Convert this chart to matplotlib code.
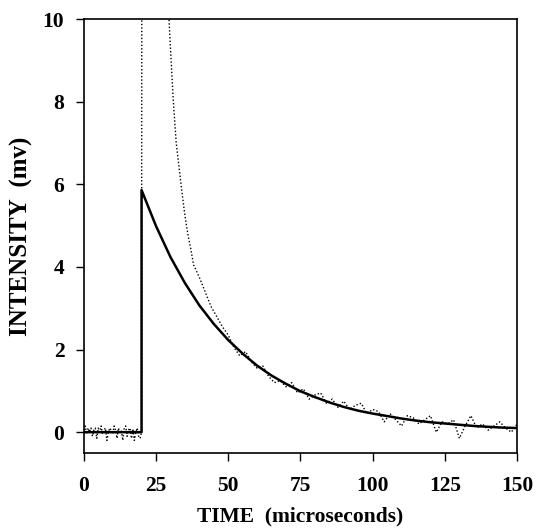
import matplotlib.pyplot as plt

# measured signal (mV) vs time (microseconds)
base_t = [0.0, 0.5, 1.0, 1.5, 2.0, 2.5, 3.0, 3.5, 4.0, 4.5, 5.0, 5.5, 6.0, 6.5, 7.0, 7.5,
          8.0, 8.5, 9.0, 9.5, 10.0, 10.5, 11.0, 11.5, 12.0, 12.5, 13.0, 13.5, 14.0, 14.5,
          15.0, 15.5, 16.0, 16.5, 17.0, 17.5, 18.0, 18.5, 19.0, 19.5, 20.0]
base_v = [0.05, 0.15, -0.05, 0.10, 0.0, 0.10, -0.10, 0.05, 0.10, -0.15, 0.10, 0.0, 0.15,
          -0.05, 0.05, 0.10, -0.20, 0.0, 0.10, 0.05, -0.05, 0.15, 0.05, -0.15, 0.10, 0.0,
          0.05, -0.20, 0.10, 0.15, -0.10, 0.05, 0.10, -0.15, 0.05, -0.20, 0.0, 0.10, -0.10, -0.15, 0.0]

peak_t = [20.2, 22.0, 25.0, 28.0, 29.5, 30.0, 31.0, 32.0, 33.0, 34.0, 35.0, 36.0, 37.0,
          38.0, 40.0, 42.0, 44.0, 46.0, 48.0]
peak_v = [25.0, 20.0, 15.0, 11.5, 10.0, 9.3, 8.0, 7.0, 6.4, 5.8, 5.25, 4.8, 4.45,
          4.05, 3.75, 3.40, 3.05, 2.80, 2.55]

tail_t = list(range(50, 151, 2))
tail_v = [2.35, 2.05, 1.85, 1.95, 1.70, 1.55, 1.60, 1.35, 1.20, 1.25, 1.10, 1.20, 0.95,
          1.05, 0.80, 0.90, 0.95, 0.70, 0.80, 0.60, 0.75, 0.55, 0.65, 0.70, 0.45, 0.55,
          0.50, 0.25, 0.45, 0.30, 0.15, 0.40, 0.35, 0.20, 0.30, 0.40, 0.00, 0.25, 0.20,
          0.30, -0.15, 0.15, 0.40, 0.10, 0.20, 0.05, 0.15, 0.25, 0.10, 0.00, 0.20]

# single exponential fit
fit_t = [0, 20, 20, 25, 30, 35, 40, 45, 50, 55, 60, 65, 70, 75, 80, 85, 90, 95, 100,
         105, 110, 115, 120, 125, 130, 135, 140, 145, 150]
fit_v = [0.0, 0.0, 5.86, 4.99, 4.24, 3.61, 3.07, 2.62, 2.23, 1.90, 1.61, 1.37, 1.17,
         0.99, 0.85, 0.72, 0.61, 0.52, 0.45, 0.39, 0.33, 0.28, 0.24, 0.21, 0.18, 0.15,
         0.13, 0.11, 0.10]

data_t = base_t + peak_t + tail_t
data_v = base_v + peak_v + tail_v

plt.rcParams['font.family'] = ['Liberation Serif', 'DejaVu Serif']
plt.rcParams['font.weight'] = 'bold'

fig = plt.figure(figsize=(5.37, 5.29), dpi=100)
ax = fig.add_axes([0.156, 0.144, 0.807, 0.820])

ax.plot(data_t, data_v, color='black', lw=1.0, ls=(0, (1, 1.5)))
ax.plot(fit_t, fit_v, color='black', lw=1.8)

ax.set_xlim(0, 150)
ax.set_ylim(-0.5, 10)
ax.set_xticks([0, 25, 50, 75, 100, 125, 150])
ax.set_yticks([0, 2, 4, 6, 8, 10])
ax.tick_params(direction='out', length=6, width=1, labelsize=15.5)
ax.tick_params(axis='x', pad=11)
ax.tick_params(axis='y', pad=8)
for lab in ax.get_xticklabels() + ax.get_yticklabels():
    lab.set_fontweight('bold')
for s in ax.spines.values():
    s.set_linewidth(1.2)

ax.set_xlabel("TIME  (microseconds)", fontsize=15.5, fontweight='bold', labelpad=7)
ax.set_ylabel("INTENSITY  (mv)", fontsize=18, fontweight='bold', labelpad=7)

plt.savefig('out.png', dpi=100)
